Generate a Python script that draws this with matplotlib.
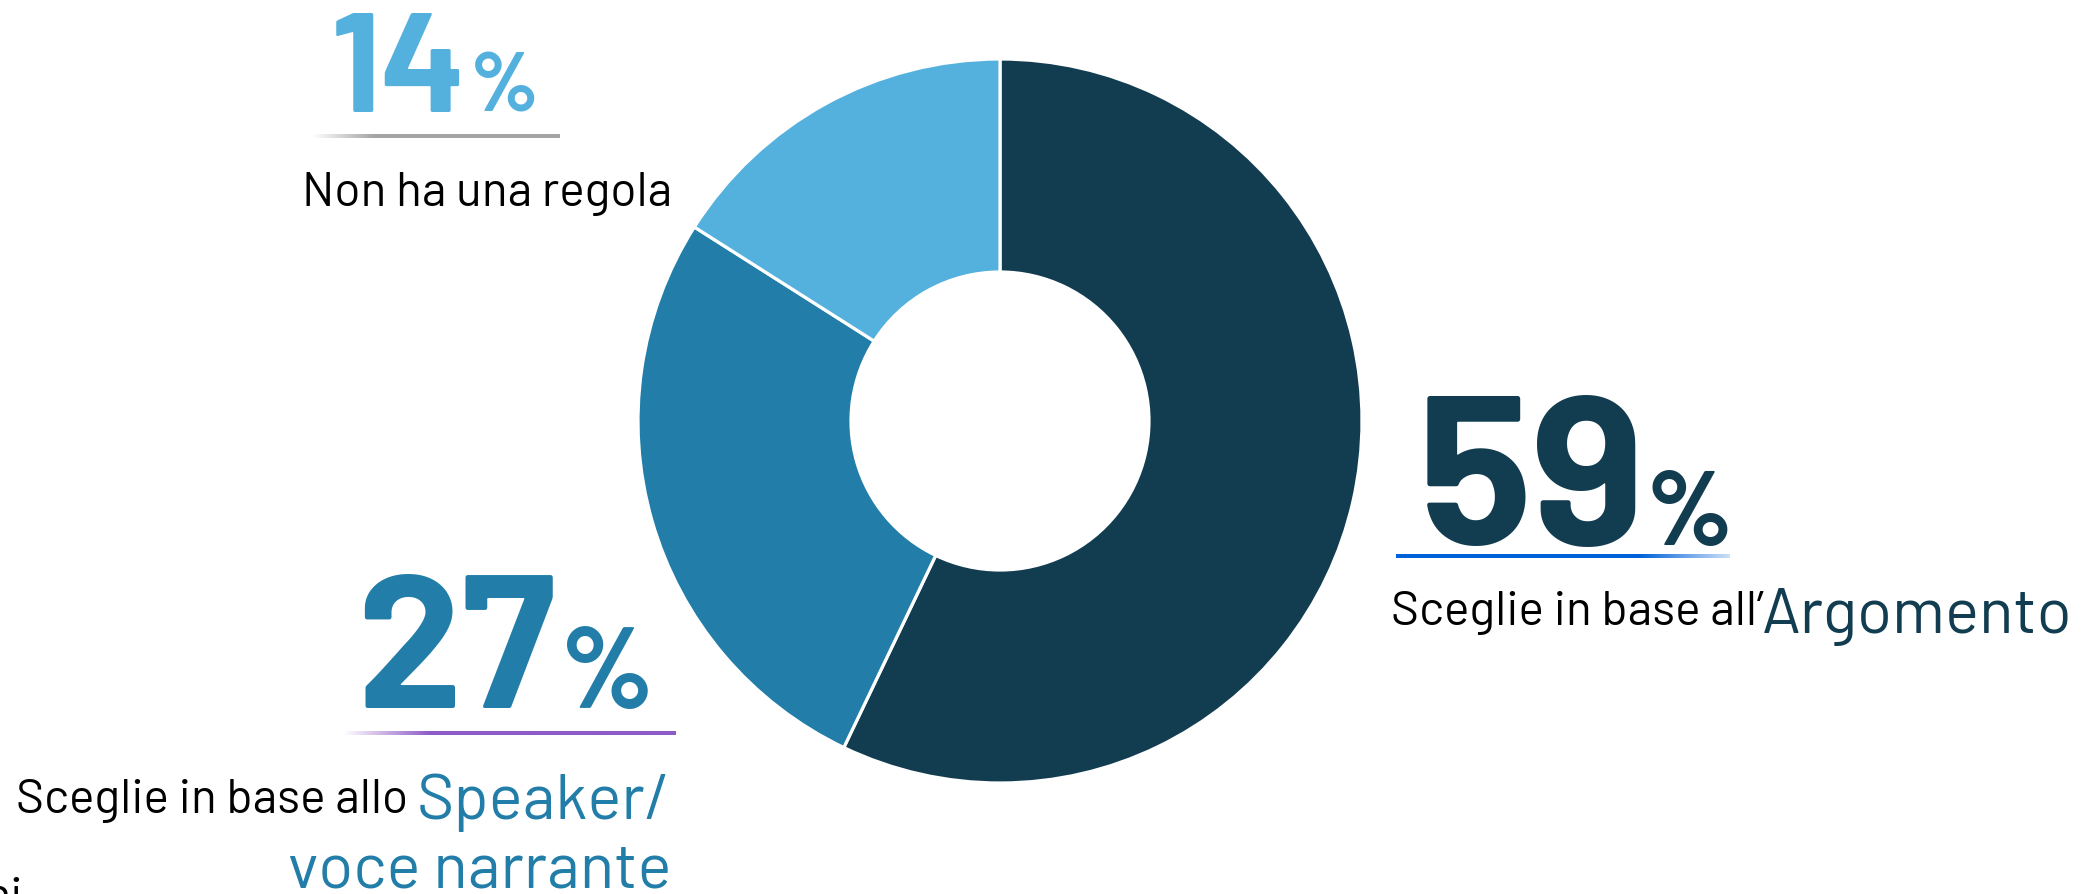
import numpy as np
import matplotlib
matplotlib.use("Agg")
import matplotlib.pyplot as plt
from matplotlib import font_manager

# slice shares as drawn (the printed labels are rounded differently in the source)
categories = ["Sceglie in base all'Argomento",
              "Sceglie in base allo Speaker/voce narrante",
              "Non ha una regola"]
shares = [57.1, 26.9, 16.0]
pct_labels = ["59", "27", "14"]
colors = ["#123d51", "#227ea8", "#54b1de"]

W, H = 2084, 894

# pick a narrow-ish font if one happens to be installed
names = {f.name for f in font_manager.fontManager.ttflist}
label_font = "Roboto"
for cand in ["Barlow", "Roboto Condensed", "Liberation Sans Narrow"]:
    if cand in names:
        label_font = cand
        break
num_font = "Barlow" if "Barlow" in names else "Roboto"

fig = plt.figure(figsize=(W / 100, H / 100), dpi=100)
ax = fig.add_axes([0, 0, 1, 1])

def fy(y):
    # pixel row (from the top) -> data y
    return H - y

ax.pie(shares, colors=colors, startangle=90, counterclock=False,
       radius=362, center=(1000, fy(421)),
       wedgeprops=dict(width=362 - 149, edgecolor="white", linewidth=2.3))

ax.set_xlim(0, W)
ax.set_ylim(0, H)
ax.set_aspect("equal")
ax.axis("off")


def grad_line(x0, x1, y, color, ramp, thick=4):
    # horizontal bar with a fading end, drawn as an image
    n = 400
    t = np.linspace(0, 1, n)
    rgb = matplotlib.colors.to_rgb(color)
    if ramp[0] == "left":
        a = np.clip(t / ramp[1], 0, 1)
    else:
        a = np.clip((1 - t) / ramp[1], 0, 1) * 0.8 + 0.2
        a[t < 1 - ramp[1]] = 1
    img = np.zeros((1, n, 4))
    img[0, :, :3] = rgb
    img[0, :, 3] = a
    ax.imshow(img, extent=(x0, x1, fy(y + thick), fy(y)), aspect="auto",
              interpolation="bilinear", zorder=3)


def big_pct(x, y, num, color, size, psize, px):
    ax.text(x, fy(y), num, fontsize=size, fontweight="bold", family=num_font,
            color=color, ha="left", va="baseline")
    ax.text(px, fy(y), "%", fontsize=psize, fontweight="bold", family=num_font,
            color=color, ha="left", va="baseline")


def label(x, y, s, size, color="black", ha="left", weight="normal"):
    ax.text(x, fy(y), s, fontsize=size, family=label_font, color=color,
            ha=ha, va="baseline", fontweight=weight)


# 14% - top left
big_pct(331, 112, pct_labels[2], colors[2], 102, 60, 470)
grad_line(312, 560, 134, "#a5a5a5", ("left", 0.25))
label(302, 206, "Non ha una regola", 34.5)

# 59% - right
big_pct(1418, 545, pct_labels[0], colors[0], 153, 76, 1646)
grad_line(1396, 1730, 554, "#0062d9", ("right", 0.27))
label(1391, 625, "Sceglie in base all\u2019", 34.5)
label(2073, 633, "Argomento", 46, colors[0], ha="right")

# 27% - bottom left
big_pct(356, 708, pct_labels[1], colors[1], 136, 82, 560)
grad_line(343, 676, 731, "#8f5bc6", ("left", 0.26))
label(16, 813, "Sceglie in base allo", 34.5)
label(671, 819, "Speaker/", 46, colors[1], ha="right")
label(671, 888, "voce narrante", 46, colors[1], ha="right")

# cut-off text at the bottom-left edge
label(23, 911, "ni", 35, ha="right")

fig.savefig("out.png", dpi=100)
